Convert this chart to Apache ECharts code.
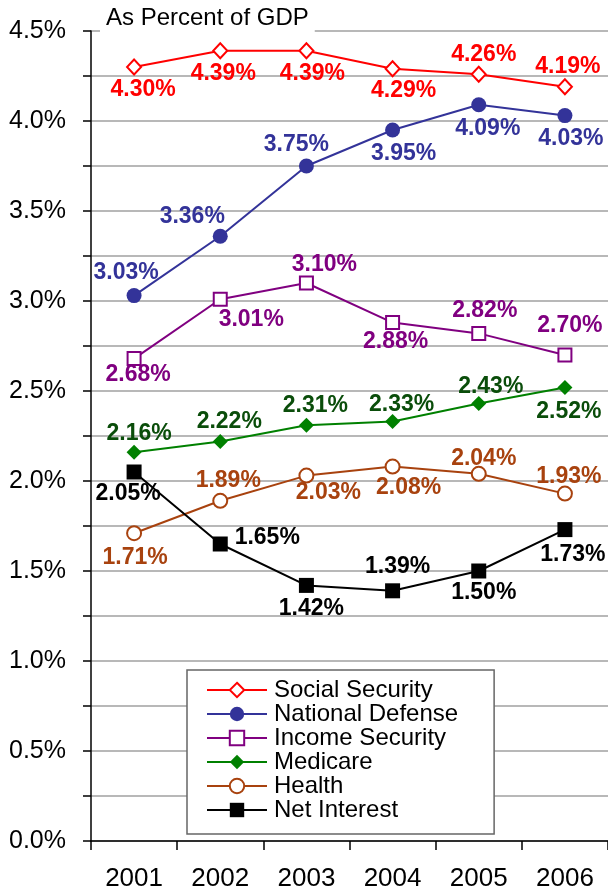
<!DOCTYPE html>
<html>
<head>
<meta charset="utf-8">
<script src="https://cdn.jsdelivr.net/npm/echarts@6/dist/echarts.min.js"></script>
<style>
  html, body { margin: 0; padding: 0; background: #fff; }
  #main { width: 608px; height: 892px; }
</style>
</head>
<body>
<div id="main"></div>
<script>
// 数据
var years = ['2001', '2002', '2003', '2004', '2005', '2006'];
var socialSecurity   = [4.30, 4.39, 4.39, 4.29, 4.26, 4.19];
var nationalDefense  = [3.03, 3.36, 3.75, 3.95, 4.09, 4.03];
var incomeSecurity   = [2.68, 3.01, 3.10, 2.88, 2.82, 2.70];
var medicare         = [2.16, 2.22, 2.31, 2.33, 2.43, 2.52];
var health           = [1.71, 1.89, 2.03, 2.08, 2.04, 1.93];
var netInterest      = [2.05, 1.65, 1.42, 1.39, 1.50, 1.73];

// label offsets (centre of the label relative to the point)
var ssOff  = [[9, 23], [3, 23], [6, 23], [11, 22], [5, -20], [3, -20]];
var ndOff  = [[-8, -23], [-28, -20], [-10, -21], [11, 24], [9, 24], [6, 23]];
var isOff  = [[4, 16], [31, 20], [18, -18], [3, 19], [6, -23], [5, -29]];
var medOff = [[5, -19], [9, -20], [9, -20], [9, -17], [12, -17], [4, 24]];
var hlOff  = [[1, 24], [8, -20], [22, 17], [16, 21], [5, -15], [4, -17]];
var niOff  = [[-6, 22], [47, -6], [5, 23], [5, -24], [5, 22], [8, 25]];

var myChart = echarts.init(document.getElementById('main'));

function withLabels(values, offs) {
    var res = [];
    for (var i = 0; i < values.length; i++) {
        res.push({ value: values[i], label: { offset: offs[i] } });
    }
    return res;
}

function makeSeries(name, values, offs, symbol, size, color, labelColor) {
    return {
        name: name,
        type: 'line',
        data: withLabels(values, offs),
        symbol: symbol,
        symbolSize: size,
        itemStyle: { color: color, borderWidth: 2 },
        lineStyle: { color: color, width: 2 },
        label: {
            show: true,
            position: 'inside',
            align: 'center',
            verticalAlign: 'middle',
            fontFamily: 'Liberation Sans, Arial, sans-serif',
            fontWeight: 'bold',
            fontSize: 23,
            color: labelColor,
            formatter: function (p) { return p.value.toFixed(2) + '%'; }
        },
        emphasis: { disabled: true }
    };
}

var option = {
    animation: false,
    backgroundColor: '#fff',
    textStyle: { fontFamily: 'Liberation Sans, Arial, sans-serif' },
    title: {
        text: 'As Percent of GDP',
        left: 100,
        top: 3,
        padding: [3, 6, 8, 6],
        backgroundColor: '#fff',
        textStyle: { fontSize: 24, fontWeight: 'normal', color: '#000' }
    },
    grid: { left: 91, right: 0, top: 31, bottom: 51 },
    legend: {
        orient: 'vertical',
        left: 187,
        top: 670,
        padding: [8, 36, 12, 19],
        itemWidth: 60,
        itemHeight: 18,
        itemGap: 0,
        backgroundColor: '#fff',
        borderColor: '#666',
        borderWidth: 1.5,
        borderRadius: 0,
        textStyle: { fontSize: 24, lineHeight: 24, color: '#000', padding: [0, 0, 0, 2] },
        data: ['Social Security', 'National Defense', 'Income Security', 'Medicare', 'Health', 'Net Interest']
    },
    xAxis: {
        type: 'category',
        data: years,
        boundaryGap: true,
        axisLine: { lineStyle: { color: '#000', width: 1.5 } },
        axisTick: { show: true, length: 9, lineStyle: { color: '#000', width: 1.5 } },
        axisLabel: { fontSize: 26, color: '#000', margin: 25 },
        splitLine: { show: false }
    },
    yAxis: {
        type: 'value',
        min: 0,
        max: 4.5,
        interval: 0.25,
        axisLine: { show: true, lineStyle: { color: '#000', width: 1.5 } },
        axisTick: { show: true, length: 8, lineStyle: { color: '#000', width: 1.5 } },
        axisLabel: {
            fontSize: 25,
            color: '#000',
            margin: 25,
            formatter: function (v) {
                return (Math.round(v * 100) % 50 === 0) ? v.toFixed(1) + '%' : '';
            }
        },
        splitLine: { show: true, lineStyle: { color: '#A0A0A0', width: 1.5 } }
    },
    series: [
        makeSeries('Health', health, hlOff, 'emptyCircle', 14, '#A8420E', '#A8420E'),
        makeSeries('Net Interest', netInterest, niOff, 'rect', 15, '#000', '#000'),
        makeSeries('Medicare', medicare, medOff, 'diamond', 15, '#008000', '#0A4D0A'),
        makeSeries('Income Security', incomeSecurity, isOff, 'emptyRect', 13, '#800080', '#800080'),
        makeSeries('National Defense', nationalDefense, ndOff, 'circle', 15, '#333399', '#333399'),
        makeSeries('Social Security', socialSecurity, ssOff, 'emptyDiamond', [14, 15], '#FF0000', '#FF0000')
    ]
};

myChart.setOption(option);
</script>
</body>
</html>
